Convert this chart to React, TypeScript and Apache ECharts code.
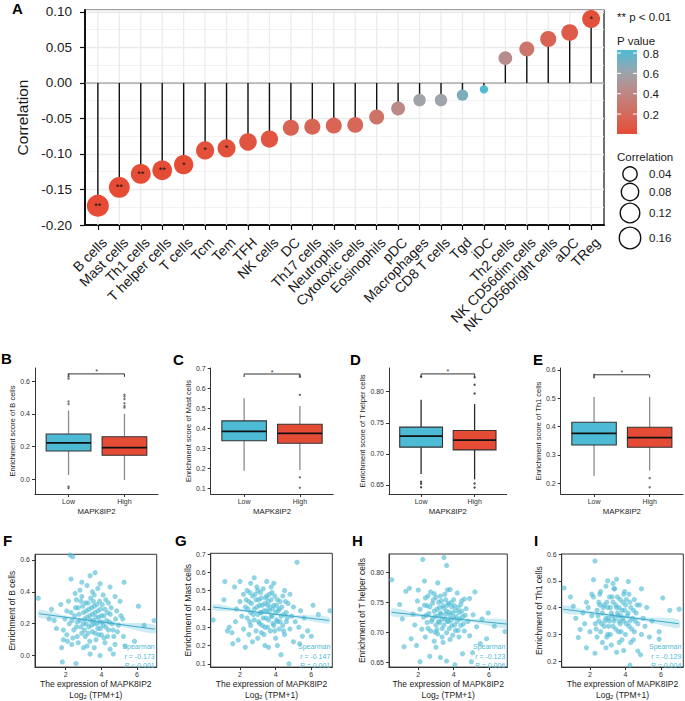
import React, { useEffect, useRef } from "react";
import * as echarts from "echarts";

// ---------------- Panel A data ----------------
const cells = ["B cells", "Mast cells", "Th1 cells", "T helper cells", "T cells", "Tcm", "Tem", "TFH", "NK cells", "DC", "Th17 cells", "Neutrophils", "Cytotoxic cells", "Eosinophils", "pDC", "Macrophages", "CD8 T cells", "Tgd", "iDC", "Th2 cells", "NK CD56dim cells", "NK CD56bright cells", "aDC", "TReg"];
const correlation = [-0.173, -0.147, -0.128, -0.123, -0.115, -0.095, -0.092, -0.083, -0.079, -0.063, -0.0615, -0.06, -0.059, -0.048, -0.036, -0.024, -0.024, -0.017, -0.009, 0.035, 0.048, 0.062, 0.071, 0.09];
const pValue = [0.0001, 0.001, 0.004, 0.006, 0.011, 0.03, 0.035, 0.06, 0.07, 0.15, 0.16, 0.17, 0.18, 0.27, 0.42, 0.6, 0.6, 0.7, 0.82, 0.45, 0.28, 0.15, 0.1, 0.035];
const stars = ["**", "**", "**", "**", "*", "*", "*", "", "", "", "", "", "", "", "", "", "", "", "", "", "", "", "", "*"];
const pLegendTicks = [0.2, 0.4, 0.6, 0.8];
const sizeLegendTicks = [0.04, 0.08, 0.12, 0.16];

// ---------------- Box plots (B-E) ----------------
const groups = ["Low", "High"];
// [x, min, q1, median, q3, max]
const boxBcells = [[1, 0.026, 0.173, 0.222, 0.277, 0.42], [2, -0.004, 0.147, 0.193, 0.26, 0.4]];
const outBcells = [[1, 0.64], [1, 0.628], [1, 0.615], [1, 0.475], [1, 0.46], [1, -0.045], [1, -0.055], [2, 0.517], [2, 0.506], [2, 0.49], [2, 0.465], [2, 0.448], [2, 0.438]];
const boxMast = [[1, 0.188, 0.338, 0.385, 0.437, 0.55], [2, 0.192, 0.325, 0.375, 0.42, 0.511]];
const outMast = [[2, 0.567], [2, 0.657], [2, 0.663], [2, 0.155], [2, 0.103]];
const boxThelper = [[1, 0.6678, 0.7108, 0.7285, 0.743, 0.787], [2, 0.659, 0.7064, 0.722, 0.7375, 0.78]];
const outThelper = [[1, 0.824], [1, 0.6553], [1, 0.652], [1, 0.6463], [2, 0.823], [2, 0.811], [2, 0.797], [2, 0.6525], [2, 0.646]];
const boxTh1 = [[1, 0.226, 0.335, 0.376, 0.4155, 0.505], [2, 0.245, 0.327, 0.361, 0.398, 0.505]];
const outTh1 = [[1, 0.583], [1, 0.574], [2, 0.218], [2, 0.186]];
const bracketLevels = [0.644, 0.6715, 0.8285, 0.583];
const ticksBoxB = [0, 0.2, 0.4, 0.6];
const ticksBoxC = [0.1, 0.2, 0.3, 0.4, 0.5, 0.6, 0.7];
const ticksBoxD = [0.65, 0.7, 0.75, 0.8];
const ticksBoxE = [0.2, 0.3, 0.4, 0.5, 0.6];

// ---------------- Scatter plots (F-I) ----------------
const scatterBcells = [[0.46, 0.36], [1.07, 0.23], [1.2, 0.29], [1.35, 0.22], [1.48, 0.17], [1.72, 0.32], [1.77, 0.05], [1.81, -0.04], [1.87, 0.1], [1.87, 0.16], [1.96, 0.23], [2.06, 0.13], [2.06, 0.28], [2.1, 0.09], [2.15, 0.34], [2.2, 0.2], [2.24, 0.63], [2.3, 0.48], [2.3, 0.27], [2.34, 0.07], [2.39, 0.62], [2.4, 0.11], [2.5, 0.25], [2.53, 0.39], [2.58, -0.05], [2.6, 0.18], [2.6, 0.35], [2.7, 0.3], [2.7, 0.08], [2.8, 0.22], [2.8, 0.41], [2.9, 0.14], [2.9, 0.46], [2.9, 0.37], [3.0, 0.27], [3.0, 0.2], [3.0, 0.05], [3.1, 0.33], [3.1, 0.12], [3.2, 0.24], [3.2, 0.44], [3.2, 0.06], [3.3, 0.18], [3.3, 0.29], [3.37, 0.5], [3.37, 0.01], [3.4, 0.22], [3.4, 0.36], [3.5, 0.15], [3.5, 0.26], [3.5, 0.4], [3.6, 0.2], [3.6, 0.31], [3.6, 0.05], [3.65, 0.52], [3.7, 0.1], [3.7, 0.24], [3.8, 0.17], [3.8, 0.28], [3.8, 0.42], [3.9, 0.21], [3.9, 0.34], [3.93, 0.45], [3.93, 0.0], [4.0, 0.13], [4.0, 0.25], [4.1, 0.19], [4.1, 0.38], [4.2, 0.29], [4.2, 0.08], [4.25, 0.35], [4.3, 0.22], [4.4, 0.16], [4.4, 0.33], [4.49, 0.43], [4.49, 0.04], [4.5, 0.26], [4.6, 0.2], [4.67, 0.01], [4.7, 0.12], [4.77, 0.37], [4.77, 0.07], [4.8, 0.23], [4.86, 0.28], [4.9, 0.15], [4.96, 0.19], [5.05, 0.34], [5.1, 0.25], [5.2, 0.23], [5.24, 0.12], [5.28, 0.46], [5.33, 0.06], [5.86, 0.09], [6.08, 0.31], [6.4, 0.19], [6.96, 0.22],
  [2.45, 0.16], [2.55, 0.3], [2.65, 0.21], [2.75, 0.26], [2.85, 0.18], [2.95, 0.31], [3.05, 0.23], [3.05, 0.16], [3.15, 0.28], [3.15, 0.2], [3.25, 0.33], [3.25, 0.14], [3.35, 0.25], [3.45, 0.19], [3.45, 0.3], [3.55, 0.22], [3.55, 0.34], [3.65, 0.27], [3.65, 0.14], [3.75, 0.2], [3.75, 0.32], [3.85, 0.24], [3.85, 0.13], [3.95, 0.29], [4.05, 0.21], [4.05, 0.32], [4.15, 0.25], [4.15, 0.11], [4.25, 0.18], [4.35, 0.27], [4.45, 0.21], [4.55, 0.3], [4.65, 0.16], [2.35, 0.22], [2.65, 0.12], [3.35, 0.09], [3.95, 0.17], [4.35, 0.12], [2.85, 0.34], [3.6, 0.38]];
const scatterMast = [[0.5, 0.34], [1.1, 0.45], [1.15, 0.55], [1.3, 0.28], [1.4, 0.3], [1.55, 0.27], [1.6, 0.21], [1.7, 0.52], [1.75, 0.33], [1.8, 0.4], [1.9, 0.23], [2.0, 0.55], [2.0, 0.44], [2.1, 0.36], [2.2, 0.29], [2.2, 0.48], [2.3, 0.19], [2.3, 0.41], [2.4, 0.35], [2.4, 0.5], [2.5, 0.26], [2.5, 0.44], [2.6, 0.38], [2.6, 0.31], [2.6, 0.54], [2.7, 0.47], [2.7, 0.22], [2.8, 0.57], [2.8, 0.4], [2.8, 0.34], [2.9, 0.28], [2.9, 0.45], [3.0, 0.37], [3.0, 0.5], [3.0, 0.24], [3.1, 0.42], [3.1, 0.32], [3.2, 0.46], [3.2, 0.38], [3.2, 0.27], [3.3, 0.51], [3.3, 0.35], [3.4, 0.43], [3.4, 0.3], [3.4, 0.2], [3.5, 0.39], [3.5, 0.47], [3.5, 0.55], [3.6, 0.34], [3.6, 0.19], [3.6, 0.44], [3.7, 0.28], [3.7, 0.41], [3.8, 0.36], [3.8, 0.49], [3.9, 0.31], [3.9, 0.42], [3.9, 0.54], [4.0, 0.24], [4.0, 0.38], [4.1, 0.45], [4.1, 0.33], [4.1, 0.2], [4.2, 0.29], [4.2, 0.4], [4.3, 0.36], [4.3, 0.15], [4.4, 0.47], [4.4, 0.31], [4.5, 0.5], [4.5, 0.26], [4.6, 0.38], [4.6, 0.33], [4.7, 0.43], [4.75, 0.1], [4.8, 0.48], [4.8, 0.29], [4.9, 0.36], [5.0, 0.41], [5.0, 0.22], [5.1, 0.33], [5.2, 0.655], [5.3, 0.3], [5.35, 0.21], [5.4, 0.39], [5.5, 0.25], [5.6, 0.35], [5.8, 0.28], [6.0, 0.25], [6.1, 0.42], [6.4, 0.37], [7.05, 0.39],
  [2.45, 0.4], [2.55, 0.33], [2.65, 0.43], [2.75, 0.37], [2.85, 0.48], [2.95, 0.41], [3.05, 0.33], [3.05, 0.45], [3.15, 0.38], [3.15, 0.49], [3.25, 0.42], [3.25, 0.31], [3.35, 0.39], [3.45, 0.46], [3.45, 0.35], [3.55, 0.42], [3.55, 0.3], [3.65, 0.39], [3.65, 0.48], [3.75, 0.36], [3.75, 0.45], [3.85, 0.4], [3.85, 0.32], [3.95, 0.47], [4.05, 0.42], [4.05, 0.34], [4.15, 0.39], [4.25, 0.44], [4.25, 0.33], [4.35, 0.41], [4.45, 0.37], [4.55, 0.44], [4.65, 0.35], [2.35, 0.45], [2.55, 0.49], [3.35, 0.26], [3.95, 0.28], [4.45, 0.28], [2.95, 0.52], [3.75, 0.52]];
const scatterThelper = [[0.5, 0.787], [0.95, 0.746], [1.1, 0.722], [1.2, 0.676], [1.3, 0.768], [1.5, 0.773], [1.6, 0.689], [1.7, 0.73], [1.8, 0.712], [1.9, 0.678], [1.95, 0.752], [2.0, 0.77], [2.1, 0.651], [2.1, 0.738], [2.2, 0.705], [2.25, 0.821], [2.3, 0.725], [2.35, 0.785], [2.4, 0.692], [2.4, 0.757], [2.5, 0.716], [2.5, 0.744], [2.6, 0.731], [2.65, 0.66], [2.7, 0.702], [2.7, 0.767], [2.8, 0.722], [2.8, 0.748], [2.9, 0.685], [2.9, 0.735], [2.9, 0.764], [3.0, 0.712], [3.0, 0.758], [3.0, 0.675], [3.1, 0.782], [3.1, 0.727], [3.1, 0.697], [3.2, 0.741], [3.2, 0.716], [3.25, 0.658], [3.3, 0.752], [3.3, 0.73], [3.35, 0.706], [3.4, 0.683], [3.4, 0.744], [3.45, 0.824], [3.5, 0.722], [3.5, 0.763], [3.6, 0.811], [3.6, 0.652], [3.6, 0.735], [3.6, 0.699], [3.7, 0.748], [3.7, 0.718], [3.8, 0.728], [3.8, 0.688], [3.8, 0.771], [3.9, 0.711], [3.9, 0.742], [4.0, 0.724], [4.0, 0.754], [4.07, 0.646], [4.1, 0.703], [4.1, 0.736], [4.2, 0.718], [4.2, 0.765], [4.3, 0.692], [4.3, 0.733], [4.4, 0.746], [4.4, 0.711], [4.5, 0.664], [4.5, 0.726], [4.6, 0.702], [4.6, 0.755], [4.7, 0.739], [4.8, 0.718], [4.9, 0.694], [4.9, 0.756], [5.0, 0.651], [5.07, 0.666], [5.1, 0.729], [5.2, 0.767], [5.3, 0.709], [5.5, 0.681], [5.6, 0.722], [5.86, 0.689], [5.95, 0.732], [6.3, 0.71], [6.9, 0.701],
  [2.45, 0.728], [2.55, 0.706], [2.65, 0.742], [2.75, 0.718], [2.85, 0.754], [2.95, 0.726], [3.05, 0.738], [3.05, 0.704], [3.15, 0.75], [3.15, 0.718], [3.25, 0.732], [3.25, 0.76], [3.35, 0.722], [3.45, 0.74], [3.45, 0.712], [3.55, 0.73], [3.55, 0.754], [3.65, 0.718], [3.65, 0.745], [3.75, 0.733], [3.75, 0.706], [3.85, 0.749], [3.85, 0.72], [3.95, 0.732], [4.05, 0.712], [4.05, 0.744], [4.15, 0.726], [4.25, 0.741], [4.25, 0.703], [4.35, 0.722], [4.45, 0.735], [4.55, 0.714], [4.65, 0.728], [2.35, 0.745], [2.55, 0.76], [3.35, 0.692], [3.95, 0.695], [4.45, 0.752], [2.95, 0.7], [3.65, 0.77]];
const scatterTh1 = [[0.54, 0.473], [0.9, 0.44], [1.06, 0.405], [1.2, 0.36], [1.34, 0.288], [1.45, 0.318], [1.6, 0.38], [1.7, 0.34], [1.8, 0.25], [1.8, 0.42], [1.9, 0.4], [2.0, 0.31], [2.1, 0.37], [2.1, 0.45], [2.2, 0.504], [2.2, 0.44], [2.28, 0.574], [2.28, 0.23], [2.3, 0.34], [2.4, 0.39], [2.4, 0.29], [2.5, 0.42], [2.5, 0.35], [2.6, 0.31], [2.6, 0.46], [2.7, 0.38], [2.7, 0.27], [2.8, 0.41], [2.8, 0.33], [2.9, 0.36], [2.9, 0.48], [2.9, 0.25], [3.0, 0.3], [3.0, 0.4], [3.0, 0.5], [3.1, 0.35], [3.1, 0.44], [3.2, 0.26], [3.2, 0.38], [3.3, 0.42], [3.3, 0.33], [3.3, 0.49], [3.4, 0.47], [3.4, 0.36], [3.5, 0.506], [3.5, 0.233], [3.5, 0.4], [3.6, 0.31], [3.6, 0.37], [3.7, 0.43], [3.7, 0.34], [3.8, 0.28], [3.8, 0.39], [3.9, 0.45], [3.9, 0.35], [3.9, 0.24], [4.0, 0.41], [4.0, 0.3], [4.1, 0.37], [4.16, 0.497], [4.2, 0.33], [4.2, 0.45], [4.25, 0.185], [4.3, 0.4], [4.3, 0.27], [4.4, 0.36], [4.5, 0.43], [4.5, 0.31], [4.6, 0.38], [4.7, 0.238], [4.7, 0.34], [4.8, 0.41], [4.85, 0.224], [4.9, 0.47], [4.9, 0.3], [5.0, 0.36], [5.1, 0.33], [5.2, 0.4], [5.35, 0.29], [5.5, 0.35], [5.9, 0.31], [5.9, 0.282], [6.1, 0.436], [6.5, 0.39], [7.03, 0.394],
  [2.45, 0.37], [2.55, 0.41], [2.65, 0.34], [2.75, 0.4], [2.85, 0.35], [2.95, 0.42], [3.05, 0.36], [3.05, 0.33], [3.15, 0.4], [3.15, 0.3], [3.25, 0.37], [3.25, 0.44], [3.35, 0.35], [3.45, 0.41], [3.45, 0.32], [3.55, 0.38], [3.55, 0.44], [3.65, 0.35], [3.65, 0.4], [3.75, 0.37], [3.75, 0.31], [3.85, 0.42], [3.85, 0.36], [3.95, 0.39], [4.05, 0.34], [4.05, 0.43], [4.15, 0.38], [4.25, 0.35], [4.25, 0.42], [4.35, 0.32], [4.45, 0.39], [4.55, 0.35], [4.65, 0.41], [2.35, 0.32], [2.55, 0.45], [3.35, 0.47], [3.95, 0.46], [4.45, 0.28], [2.95, 0.29], [3.65, 0.27]];
// fitted line end points and confidence band half widths
const bandX = [0.5, 2, 3.3, 5, 7];
const fitBcells = [[0.5, 0.263], [7.0, 0.166]];
const bandBcells = [0.025, 0.011, 0.007, 0.012, 0.027];
const fitMast = [[0.5, 0.41], [7.0, 0.337]];
const bandMast = [0.017, 0.008, 0.005, 0.008, 0.018];
const fitThelper = [[0.5, 0.733], [7.0, 0.7135]];
const bandThelper = [0.0065, 0.003, 0.002, 0.003, 0.007];
const fitTh1 = [[0.5, 0.394], [7.0, 0.34]];
const bandTh1 = [0.015, 0.007, 0.004, 0.007, 0.016];
const statsBcells = ["Spearman", "r = -0.173", "P < 0.001"];
const statsMast = ["Spearman", "r = -0.147", "P = 0.001"];
const statsThelper = ["Spearman", "r = -0.123", "P = 0.006"];
const statsTh1 = ["Spearman", "r = -0.129", "P = 0.004"];
const ticksScF = [0, 0.2, 0.4, 0.6];
const ticksScG = [0.1, 0.2, 0.3, 0.4, 0.5, 0.6, 0.7];
const ticksScH = [0.65, 0.7, 0.75, 0.8];
const ticksScI = [0.2, 0.3, 0.4, 0.5, 0.6];
const ticksExpr = [2, 4, 6];

const FONT = '"Liberation Sans", Arial, Helvetica, sans-serif';
const CYAN = "#4DBBD5";
const RED = "#E64B35";

function hexRgb(h: string) {
  const n = parseInt(h.slice(1), 16);
  return [(n >> 16) & 255, (n >> 8) & 255, n & 255];
}
const P_STOPS: [number, string][] = [[0, "#E64B35"], [0.2, "#D56A5C"], [0.4, "#BE8682"], [0.6, "#9FA3AA"], [0.83, "#4DBBD5"]];
function pColor(p: number) {
  const q = Math.min(Math.max(p, 0), 0.83);
  for (let i = 0; i < P_STOPS.length - 1; i++) {
    const [a, ca] = P_STOPS[i];
    const [b, cb] = P_STOPS[i + 1];
    if (q <= b) {
      const t = (q - a) / (b - a);
      const A = hexRgb(ca);
      const B = hexRgb(cb);
      const c = A.map((v, k) => Math.round(v + (B[k] - v) * t));
      return `rgb(${c[0]},${c[1]},${c[2]})`;
    }
  }
  return P_STOPS[P_STOPS.length - 1][1];
}
function dotSize(a: number) {
  return 8.3 + 13.7 * Math.sqrt(Math.max(0, a - 0.009) / 0.164);
}

function txt(text: string, x: number, y: number, o: any = {}) {
  const align = o.align || "left";
  const va = o.va || "middle";
  return {
    type: "text",
    x,
    y,
    z: 20,
    style: {
      text,
      fontSize: o.size || 11.5,
      fontWeight: o.weight || "normal",
      fontFamily: FONT,
      fill: o.color || "#1a1a1a",
      align,
      verticalAlign: va,
      textAlign: align,
      textVerticalAlign: va,
    },
  };
}

function buildOption() {
  const grids: any[] = [];
  const xAxes: any[] = [];
  const yAxes: any[] = [];
  const series: any[] = [];
  const graphic: any[] = [];

  // ---------- Panel A ----------
  grids.push({ left: 85, top: 10, width: 519, height: 215, show: true, borderColor: "#111", borderWidth: 1.2, backgroundColor: "#fff" });
  const catIdx = cells.map((_, i) => i + 1);
  const labelPos = cells.map((_, i) => i + 1.3);
  xAxes.push({
    gridIndex: 0, type: "value", min: 0.4, max: 24.6,
    axisLine: { show: true, onZero: false, lineStyle: { color: "#111", width: 2 } },
    axisTick: { show: true, customValues: catIdx, length: 5, lineStyle: { color: "#111", width: 1.2 } },
    axisLabel: { customValues: labelPos, formatter: (v: number) => cells[Math.round(v) - 1] || "", rotate: 45, fontSize: 14, color: "#1a1a1a", margin: 15, fontFamily: FONT },
    splitLine: { show: false },
  });
  yAxes.push({
    gridIndex: 0, type: "value", min: -0.2, max: 0.1028, interval: 0.05,
    axisLine: { show: true, onZero: false, lineStyle: { color: "#111", width: 2 } },
    axisTick: { show: true, length: 5, lineStyle: { color: "#111", width: 1.2 } },
    axisLabel: { formatter: (v: number) => v.toFixed(2), showMaxLabel: false, fontSize: 13.5, color: "#1a1a1a", margin: 13, fontFamily: FONT },
    splitLine: { show: true, lineStyle: { color: "#EBEBEB", width: 1.3 } },
    minorTick: { show: false, splitNumber: 2 },
    minorSplitLine: { show: true, lineStyle: { color: "#EFEFEF", width: 0.8 } },
    name: "Correlation", nameLocation: "middle", nameGap: 50,
    nameTextStyle: { fontSize: 15.5, color: "#1a1a1a", fontFamily: FONT },
  });
  series.push({
    type: "custom", xAxisIndex: 0, yAxisIndex: 0, z: 1, silent: true,
    data: catIdx.map((i) => [i, 0]),
    renderItem: (params: any, api: any) => {
      const cs = params.coordSys;
      const p = api.coord([api.value(0), 0]);
      return { type: "line", shape: { x1: p[0], y1: cs.y, x2: p[0], y2: cs.y + cs.height }, style: { stroke: "#EBEBEB", lineWidth: 1.3 } };
    },
  });
  series.push({
    type: "custom", xAxisIndex: 0, yAxisIndex: 0, z: 1, silent: true,
    data: [[1, 0]],
    renderItem: (params: any, api: any) => {
      const cs = params.coordSys;
      const p = api.coord([1, 0]);
      return { type: "line", shape: { x1: cs.x, y1: p[1], x2: cs.x + cs.width, y2: p[1] }, style: { stroke: "#8a8a8a", lineWidth: 1.2 } };
    },
  });
  series.push({
    type: "custom", xAxisIndex: 0, yAxisIndex: 0, z: 2, silent: true,
    data: correlation.map((v, i) => [i + 1, v]),
    renderItem: (params: any, api: any) => {
      const a = api.coord([api.value(0), 0]);
      const b = api.coord([api.value(0), api.value(1)]);
      return { type: "line", shape: { x1: a[0], y1: a[1], x2: b[0], y2: b[1] }, style: { stroke: "#111", lineWidth: 1.4 } };
    },
  });
  series.push({
    type: "scatter", xAxisIndex: 0, yAxisIndex: 0, z: 3, silent: true,
    data: correlation.map((v, i) => [i + 1, v, pValue[i]]),
    symbolSize: (val: number[]) => dotSize(Math.abs(val[1])),
    itemStyle: { color: (p: any) => pColor(p.value[2]), opacity: 1 },
    label: { show: true, position: "inside", formatter: (p: any) => stars[p.dataIndex], fontSize: 9, color: "#111", fontFamily: FONT },
  });

  // Legend for panel A
  graphic.push(txt("** p < 0.01", 617, 17, { size: 11.5 }));
  graphic.push(txt("P value", 617, 40.5, { size: 11.5 }));
  const barTop = 50, barH = 84, pTop = 0.83, pBot = 0.004;
  const stopPs = [0.83, 0.6, 0.4, 0.2, 0.004];
  graphic.push({
    type: "rect", z: 20, shape: { x: 617, y: barTop, width: 20, height: barH },
    style: { fill: { type: "linear", x: 0, y: 0, x2: 0, y2: 1, colorStops: stopPs.map((p) => ({ offset: (pTop - p) / (pTop - pBot), color: pColor(p) })) } },
  });
  pLegendTicks.forEach((p) => {
    const y = barTop + ((pTop - p) / (pTop - pBot)) * barH;
    graphic.push({ type: "line", z: 21, shape: { x1: 617, y1: y, x2: 621, y2: y }, style: { stroke: "#fff", lineWidth: 1 } });
    graphic.push({ type: "line", z: 21, shape: { x1: 633, y1: y, x2: 637, y2: y }, style: { stroke: "#fff", lineWidth: 1 } });
    graphic.push(txt(p.toFixed(1), 643, y + 0.5, { size: 11.5 }));
  });
  graphic.push(txt("Correlation", 617, 157, { size: 11.5 }));
  const circY = [174, 192, 213, 238];
  sizeLegendTicks.forEach((s, i) => {
    graphic.push({ type: "circle", z: 20, shape: { cx: 630, cy: circY[i], r: dotSize(s) / 2 }, style: { fill: "none", stroke: "#111", lineWidth: 1.4 } });
    graphic.push(txt(s.toFixed(2), 649, circY[i], { size: 11.5 }));
  });

  // ---------- Box panels ----------
  const boxPanels = [
    { grid: { left: 35, top: 368, width: 123, height: 126 }, y: [-0.09, 0.68], ticks: ticksBoxB, dec: 1, title: "Enrichment score of B cells", gap: 18, box: boxBcells, out: outBcells, whisker: "#8c8c8c", outColor: "#555" },
    { grid: { left: 210.7, top: 368, width: 122.6, height: 126 }, y: [0.0715, 0.7015], ticks: ticksBoxC, dec: 1, title: "Enrichment score of Mast cells", gap: 18.5, box: boxMast, out: outMast, whisker: "#8c8c8c", outColor: "#555" },
    { grid: { left: 389, top: 368, width: 117.7, height: 126 }, y: [0.6355, 0.838], ticks: ticksBoxD, dec: 2, title: "Enrichment score of T helper cells", gap: 22, box: boxThelper, out: outThelper, whisker: "#2a2a2a", outColor: "#222" },
    { grid: { left: 560.7, top: 368, width: 122.3, height: 126 }, y: [0.162, 0.607], ticks: ticksBoxE, dec: 1, title: "Enrichment score of Th1 cells", gap: 18, box: boxTh1, out: outTh1, whisker: "#8c8c8c", outColor: "#555" },
  ];
  boxPanels.forEach((bp, k) => {
    const gi = grids.length;
    grids.push({ ...bp.grid });
    xAxes.push({
      gridIndex: gi, type: "value", min: 0.4, max: 2.6,
      axisLine: { show: true, onZero: false, lineStyle: { color: "#333", width: 1 } },
      axisTick: { show: true, customValues: [1, 2], length: 3, lineStyle: { color: "#333" } },
      axisLabel: { customValues: [1, 2], formatter: (v: number) => groups[Math.round(v) - 1] || "", fontSize: 7, color: "#333", margin: 4, fontFamily: FONT },
      splitLine: { show: false },
      name: "MAPK8IP2", nameLocation: "middle", nameGap: 13.5,
      nameTextStyle: { fontSize: 7.8, color: "#222", fontFamily: FONT },
    });
    yAxes.push({
      gridIndex: gi, type: "value", min: bp.y[0], max: bp.y[1],
      axisLine: { show: true, onZero: false, lineStyle: { color: "#333", width: 1 } },
      axisTick: { show: true, customValues: bp.ticks, length: 3, lineStyle: { color: "#333" } },
      axisLabel: { customValues: bp.ticks, formatter: (v: number) => v.toFixed(bp.dec), fontSize: 7, color: "#333", margin: 5, fontFamily: FONT },
      splitLine: { show: false },
      name: bp.title, nameLocation: "middle", nameGap: bp.gap,
      nameTextStyle: { fontSize: 7.5, color: "#222", fontFamily: FONT },
    });
    const fills = [CYAN, RED];
    series.push({
      type: "custom", xAxisIndex: gi, yAxisIndex: gi, z: 2, silent: true,
      data: bp.box,
      renderItem: (params: any, api: any) => {
        const x = api.value(0);
        const c = (v: number) => api.coord([x, v]);
        const pMin = c(api.value(1)), pQ1 = c(api.value(2)), pMed = c(api.value(3)), pQ3 = c(api.value(4)), pMax = c(api.value(5));
        const hw = api.size([0.8, 0])[0] / 2;
        const cx = pMed[0];
        return {
          type: "group",
          children: [
            { type: "line", shape: { x1: cx, y1: pQ3[1], x2: cx, y2: pMax[1] }, style: { stroke: bp.whisker, lineWidth: 1.3 } },
            { type: "line", shape: { x1: cx, y1: pQ1[1], x2: cx, y2: pMin[1] }, style: { stroke: bp.whisker, lineWidth: 1.3 } },
            { type: "rect", shape: { x: cx - hw, y: pQ3[1], width: 2 * hw, height: pQ1[1] - pQ3[1] }, style: { fill: fills[params.dataIndex], stroke: "#333", lineWidth: 1.1 } },
            { type: "line", shape: { x1: cx - hw, y1: pMed[1], x2: cx + hw, y2: pMed[1] }, style: { stroke: "#111", lineWidth: 1.8 } },
          ],
        };
      },
    });
    series.push({
      type: "scatter", xAxisIndex: gi, yAxisIndex: gi, z: 3, silent: true,
      data: bp.out, symbolSize: 2.4, itemStyle: { color: bp.outColor },
    });
    series.push({
      type: "custom", xAxisIndex: gi, yAxisIndex: gi, z: 3, silent: true,
      data: [[1.5, bracketLevels[k]]],
      renderItem: (params: any, api: any) => {
        const y = api.value(1);
        const a = api.coord([1, y]);
        const b = api.coord([2, y]);
        return {
          type: "group",
          children: [
            { type: "polyline", shape: { points: [[a[0], a[1] + 3], [a[0], a[1]], [b[0], b[1]], [b[0], b[1] + 3]] }, style: { stroke: "#333", lineWidth: 1, fill: "none" } },
            { type: "text", x: (a[0] + b[0]) / 2, y: a[1] + 1.5, style: { text: "*", fontSize: 7, align: "center", verticalAlign: "bottom", fill: "#333", fontFamily: FONT } },
          ],
        };
      },
    });
  });

  // ---------- Scatter panels ----------
  const scPanels = [
    { grid: { left: 35, top: 554.3, width: 121.7, height: 114 }, x: [0.275, 7.107], y: [-0.072, 0.635], ticks: ticksScF, dec: 1, title: "Enrichment of B cells", gap: 16.7, xgap: 11.7, pts: scatterBcells, fit: fitBcells, band: bandBcells, stats: statsBcells },
    { grid: { left: 210.7, top: 553.3, width: 121.6, height: 116.7 }, x: [0.357, 7.18], y: [0.082, 0.704], ticks: ticksScG, dec: 1, title: "Enrichment of Mast cells", gap: 18, xgap: 9.5, pts: scatterMast, fit: fitMast, band: bandMast, stats: statsMast },
    { grid: { left: 389, top: 554, width: 118.3, height: 115.3 }, x: [0.345, 7.03], y: [0.642, 0.83], ticks: ticksScH, dec: 2, title: "Enrichment of T helper cells", gap: 21.5, xgap: 10.7, pts: scatterThelper, fit: fitThelper, band: bandThelper, stats: statsThelper },
    { grid: { left: 561.7, top: 554, width: 121.6, height: 115.3 }, x: [0.406, 7.26], y: [0.178, 0.6], ticks: ticksScI, dec: 1, title: "Enrichment of Th1 cells", gap: 18.5, xgap: 10.7, pts: scatterTh1, fit: fitTh1, band: bandTh1, stats: statsTh1 },
  ];
  scPanels.forEach((sp) => {
    const gi = grids.length;
    grids.push({ ...sp.grid, show: true, borderColor: "#333", borderWidth: 1 });
    xAxes.push({
      gridIndex: gi, type: "value", min: sp.x[0], max: sp.x[1],
      axisLine: { show: true, onZero: false, lineStyle: { color: "#333", width: 1 } },
      axisTick: { show: true, customValues: ticksExpr, length: 3, lineStyle: { color: "#333" } },
      axisLabel: { customValues: ticksExpr, formatter: (v: number) => String(v), fontSize: 7, color: "#333", margin: 4, fontFamily: FONT },
      splitLine: { show: false },
      name: "The expression of MAPK8IP2\n{a|Log}{b|2}{a| (TPM+1)}", nameLocation: "middle", nameGap: sp.xgap,
      nameTextStyle: {
        fontSize: 8.5, color: "#222", lineHeight: 10, fontFamily: FONT,
        rich: { a: { fontSize: 8.5, lineHeight: 11, color: "#222", fontFamily: FONT }, b: { fontSize: 6, lineHeight: 6, verticalAlign: "bottom", color: "#222", fontFamily: FONT } },
      },
    });
    yAxes.push({
      gridIndex: gi, type: "value", min: sp.y[0], max: sp.y[1],
      axisLine: { show: true, onZero: false, lineStyle: { color: "#333", width: 1 } },
      axisTick: { show: true, customValues: sp.ticks, length: 3, lineStyle: { color: "#333" } },
      axisLabel: { customValues: sp.ticks, formatter: (v: number) => v.toFixed(sp.dec), fontSize: 7, color: "#333", margin: 5, fontFamily: FONT },
      splitLine: { show: false },
      name: sp.title, nameLocation: "middle", nameGap: sp.gap,
      nameTextStyle: { fontSize: 8.5, color: "#222", fontFamily: FONT },
    });
    const [[x0, y0], [x1, y1]] = sp.fit;
    const lineY = (x: number) => y0 + ((y1 - y0) * (x - x0)) / (x1 - x0);
    series.push({
      type: "custom", xAxisIndex: gi, yAxisIndex: gi, z: 1, silent: true,
      data: [[x0, y0]],
      renderItem: (params: any, api: any) => {
        const up = bandX.map((x, i) => api.coord([x, lineY(x) + sp.band[i]]));
        const lo = bandX.map((x, i) => api.coord([x, lineY(x) - sp.band[i]])).reverse();
        return { type: "polygon", shape: { points: up.concat(lo), smooth: 0.3 }, style: { fill: "rgba(77,187,213,0.28)" } };
      },
    });
    series.push({
      type: "scatter", xAxisIndex: gi, yAxisIndex: gi, z: 2, silent: true,
      data: sp.pts, symbolSize: 5.2, itemStyle: { color: CYAN, opacity: 0.62 },
    });
    series.push({
      type: "line", xAxisIndex: gi, yAxisIndex: gi, z: 3, silent: true,
      data: sp.fit, symbol: "none", lineStyle: { color: "#3FA9C9", width: 1 },
    });
    const right = sp.grid.left + sp.grid.width - 2;
    const sy = [646, 656, 665.5];
    sp.stats.forEach((s, i) => graphic.push(txt(s, right, sy[i], { size: 7, color: CYAN, align: "right" })));
  });

  // Panel letters
  const letters: [string, number, number][] = [["A", 12, 8], ["B", 1, 358], ["C", 173, 359], ["D", 350, 359], ["E", 533, 359], ["F", 3, 540], ["G", 175, 540], ["H", 352, 540], ["I", 534, 540]];
  letters.forEach(([t, x, y]) => graphic.push(txt(t, x, y, { size: 15, weight: "bold", color: "#000" })));

  return {
    animation: false,
    backgroundColor: "#fff",
    textStyle: { fontFamily: FONT },
    grid: grids,
    xAxis: xAxes,
    yAxis: yAxes,
    series,
    graphic: { elements: graphic },
  };
}

export default function App() {
  const ref = useRef<HTMLDivElement>(null);
  useEffect(() => {
    document.body.style.margin = "0";
    const chart = echarts.init(ref.current as HTMLDivElement, undefined, { renderer: "svg" });
    chart.setOption(buildOption() as any);
    return () => chart.dispose();
  }, []);
  return <div ref={ref} style={{ width: 685, height: 701, background: "#fff" }} />;
}
